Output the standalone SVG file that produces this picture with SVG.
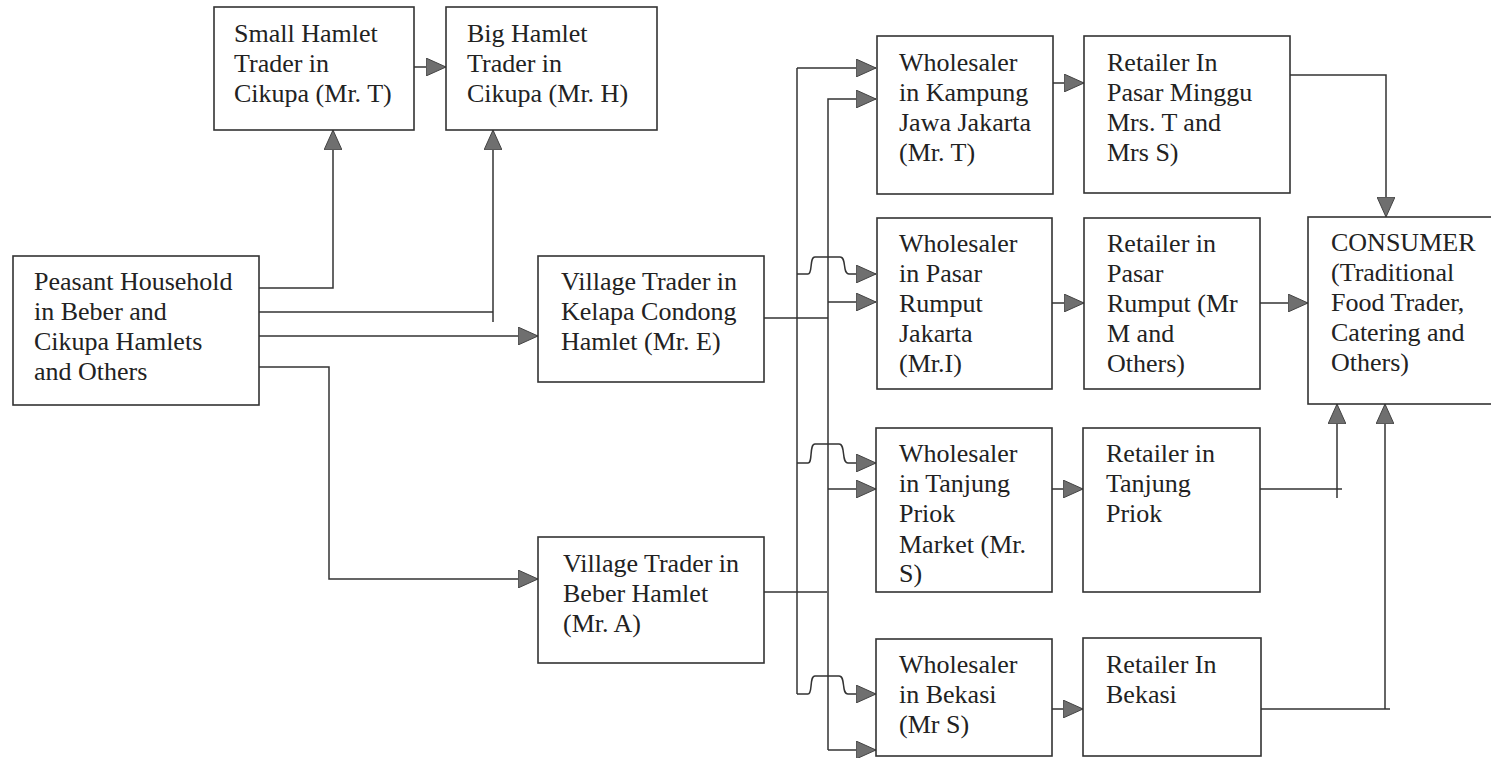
<svg xmlns="http://www.w3.org/2000/svg" width="1491" height="758" viewBox="0 0 1491 758">
<defs>
<style>
.box{fill:#fff;stroke:#333;stroke-width:1.6}
.t{font-family:"Liberation Serif","Times New Roman",serif;font-size:26px;fill:#222}
.c{fill:none;stroke:#333;stroke-width:1.5}
.a{marker-end:url(#ah)}
</style>
<marker id="ah" viewBox="0 0 20 18" refX="20" refY="9" markerWidth="20" markerHeight="18" markerUnits="userSpaceOnUse" orient="auto">
<path d="M0,0 L20,9 L0,18 Z" fill="#6f6f6f" stroke="#444" stroke-width="1"/>
</marker>
</defs>
<rect width="1491" height="758" fill="#fff"/>

<g id="connectors">
<path class="c a" d="M414,67 H446"/>
<path class="c a" d="M259,288 H333 V130"/>
<path class="c" d="M259,312 H493"/>
<path class="c a" d="M493,322 V130"/>
<path class="c a" d="M259,336 H538"/>
<path class="c a" d="M259,367 H329 V579 H538"/>
<path class="c" d="M764,318 H828"/>
<path class="c" d="M764,592 H827"/>
<path class="c" d="M797,68 V694"/>
<path class="c a" d="M797,68 H876"/>
<path class="c a" d="M828,750 V99 H876"/>
<path class="c a" d="M828,750 H876"/>
<path class="c a" d="M797,274 H808 C813,274 809,257 815,257 H840 C847,257 842,274 849,274 H876"/>
<path class="c a" d="M828,302 H876"/>
<path class="c a" d="M797,463 H808 C813,463 809,444 815,444 H839 C846,444 841,463 848,463 H876"/>
<path class="c a" d="M828,489 H876"/>
<path class="c a" d="M797,694 H808 C813,694 809,676 815,676 H839 C846,676 841,694 848,694 H876"/>
<path class="c a" d="M1053,83 H1084"/>
<path class="c a" d="M1052,303 H1084"/>
<path class="c a" d="M1052,489 H1083"/>
<path class="c a" d="M1052,709 H1083"/>
<path class="c a" d="M1290,75 H1386 V217"/>
<path class="c a" d="M1260,303 H1308"/>
<path class="c" d="M1260,489 H1342"/>
<path class="c a" d="M1337,498 V404"/>
<path class="c" d="M1261,709 H1390"/>
<path class="c a" d="M1385,709 V404"/>
</g>

<g id="small-hamlet"><rect class="box" x="214" y="7" width="200" height="123"/>
<text class="t" x="234" y="42">Small Hamlet</text><text class="t" x="234" y="72">Trader in</text><text class="t" x="234" y="102">Cikupa (Mr. T)</text></g>

<g id="big-hamlet"><rect class="box" x="446" y="7" width="211" height="123"/>
<text class="t" x="467" y="42">Big Hamlet</text><text class="t" x="467" y="72">Trader in</text><text class="t" x="467" y="102">Cikupa (Mr. H)</text></g>

<g id="peasant"><rect class="box" x="13" y="256" width="246" height="149"/>
<text class="t" x="34" y="290">Peasant Household</text><text class="t" x="34" y="320">in Beber and</text><text class="t" x="34" y="350">Cikupa Hamlets</text><text class="t" x="34" y="380">and Others</text></g>

<g id="village-kelapa"><rect class="box" x="538" y="256" width="226" height="126"/>
<text class="t" x="561" y="290">Village Trader in</text><text class="t" x="561" y="320">Kelapa Condong</text><text class="t" x="561" y="350">Hamlet (Mr. E)</text></g>

<g id="village-beber"><rect class="box" x="538" y="537" width="226" height="126"/>
<text class="t" x="563" y="572">Village Trader in</text><text class="t" x="563" y="602">Beber Hamlet</text><text class="t" x="563" y="632">(Mr. A)</text></g>

<g id="wholesaler-kampung"><rect class="box" x="877" y="36" width="176" height="158"/>
<text class="t" x="899" y="71">Wholesaler</text><text class="t" x="899" y="101">in Kampung</text><text class="t" x="899" y="131">Jawa Jakarta</text><text class="t" x="899" y="161">(Mr. T)</text></g>

<g id="retailer-minggu"><rect class="box" x="1084" y="36" width="206" height="157"/>
<text class="t" x="1107" y="71">Retailer In</text><text class="t" x="1107" y="101">Pasar Minggu</text><text class="t" x="1107" y="131">Mrs. T and</text><text class="t" x="1107" y="161">Mrs S)</text></g>

<g id="wholesaler-rumput"><rect class="box" x="877" y="218" width="175" height="171"/>
<text class="t" x="899" y="252">Wholesaler</text><text class="t" x="899" y="282">in Pasar</text><text class="t" x="899" y="312">Rumput</text><text class="t" x="899" y="342">Jakarta</text><text class="t" x="899" y="372">(Mr.I)</text></g>

<g id="retailer-rumput"><rect class="box" x="1084" y="218" width="176" height="171"/>
<text class="t" x="1107" y="252">Retailer in</text><text class="t" x="1107" y="282">Pasar</text><text class="t" x="1107" y="312">Rumput (Mr</text><text class="t" x="1107" y="342">M and</text><text class="t" x="1107" y="372">Others)</text></g>

<g id="consumer"><rect class="box" x="1308" y="217" width="190" height="187"/>
<text class="t" x="1331" y="251">CONSUMER</text><text class="t" x="1331" y="281">(Traditional</text><text class="t" x="1331" y="311">Food Trader,</text><text class="t" x="1331" y="341">Catering and</text><text class="t" x="1331" y="371">Others)</text></g>

<g id="wholesaler-tanjung"><rect class="box" x="876" y="428" width="176" height="164"/>
<text class="t" x="899" y="462">Wholesaler</text><text class="t" x="899" y="492">in Tanjung</text><text class="t" x="899" y="522">Priok</text><text class="t" x="899" y="553">Market (Mr.</text><text class="t" x="899" y="582">S)</text></g>

<g id="retailer-tanjung"><rect class="box" x="1083" y="428" width="177" height="164"/>
<text class="t" x="1106" y="462">Retailer in</text><text class="t" x="1106" y="492">Tanjung</text><text class="t" x="1106" y="522">Priok</text></g>

<g id="wholesaler-bekasi"><rect class="box" x="876" y="639" width="176" height="117"/>
<text class="t" x="899" y="673">Wholesaler</text><text class="t" x="899" y="703">in Bekasi</text><text class="t" x="899" y="733">(Mr S)</text></g>

<g id="retailer-bekasi"><rect class="box" x="1083" y="638" width="178" height="118"/>
<text class="t" x="1106" y="673">Retailer In</text><text class="t" x="1106" y="703">Bekasi</text></g>
</svg>
